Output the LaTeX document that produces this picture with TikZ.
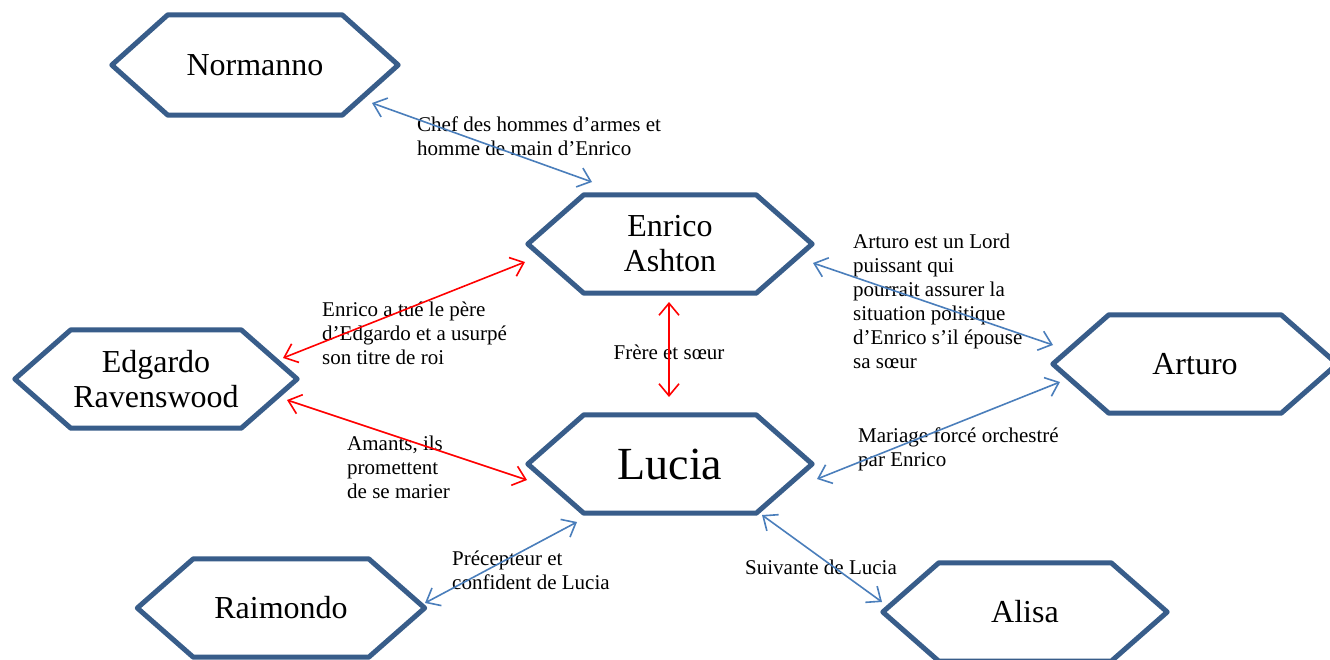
\documentclass[tikz,border=0pt]{standalone}
\usepackage{fontspec}
\setmainfont{Liberation Serif}
\usetikzlibrary{arrows.meta}
\definecolor{hexcol}{HTML}{385D8A}
\definecolor{arrowblue}{HTML}{4A7EBB}
\definecolor{arrowred}{HTML}{FF0000}
\tikzset{
  person/.style={minimum width=284pt, minimum height=98pt, inner sep=0pt, align=center,
    font=\fontsize{32}{35}\selectfont},
  hexline/.style={draw=hexcol, line width=5pt, line join=round},
  lab/.style={anchor=west, align=left, inner sep=0pt, font=\fontsize{21}{24}\selectfont},
  conn/.style={line width=1.6pt,
    {Straight Barb[length=12pt,width=20pt]}-{Straight Barb[length=12pt,width=20pt]}},
  blueconn/.style={conn, draw=arrowblue},
  redconn/.style={conn, draw=arrowred}
}
\newcommand{\hexof}[1]{%
  \draw[hexline] (#1.west) -- ([xshift=56pt]#1.north west) -- ([xshift=-56pt]#1.north east)
    -- (#1.east) -- ([xshift=-56pt]#1.south east) -- ([xshift=56pt]#1.south west) -- cycle;}
\begin{document}
\begin{tikzpicture}[x=1pt,y=-1pt]
\useasboundingbox[fill=white] (0,0) rectangle (1330,659);
% characters
\node[person, minimum width=286pt, minimum height=100pt] (norm) at (255,65) {Normanno};
\node[person] (enr) at (670,244) {Enrico\\Ashton};
\node[person, minimum width=282pt] (edg) at (156,379) {Edgardo\\Ravenswood};
\node[person, font=\fontsize{46}{50}\selectfont] (luc) at (670,464) {Lucia};
\node[person] (art) at (1195,364) {Arturo};
\node[person, minimum width=287pt] (rai) at (281,608) {Raimondo};
\node[person] (ali) at (1025,612) {Alisa};
\foreach \n in {norm,enr,edg,luc,art,rai,ali} {\hexof{\n}}
% labels
\node[lab] (l1) at (417,136) {Chef des hommes d’armes et\\homme de main d’Enrico};
\node[lab] (l2) at (322,333) {Enrico a tué le père\\d’Edgardo et a usurpé\\son titre de roi};
\node[lab] (l3) at (347,467) {Amants, ils\\promettent\\de se marier};
\node[lab, anchor=center] (l4) at (669,352) {Frère et sœur};
\node[lab] (l5) at (853,301) {Arturo est un Lord\\puissant qui\\pourrait assurer la\\situation politique\\d’Enrico s’il épouse\\sa sœur};
\node[lab] (l6) at (858,449) {Mariage forcé orchestré\\par Enrico};
\node[lab] (l7) at (452,570) {Précepteur et\\confident de Lucia};
\node[lab] (l8) at (745,567) {Suivante de Lucia};
% connectors
\draw[blueconn] ([shift={(117,38)}]norm.center) -- ([shift={(-78,-62)}]enr.center);
\draw[redconn] ([shift={(-145,18)}]enr.center) -- ([shift={(127,-21)}]edg.center);
\draw[redconn] ([shift={(131,21)}]edg.center) -- ([shift={(-143,16)}]luc.center);
\draw[redconn] ([shift={(-1,58)}]enr.center) -- ([shift={(-1,-67)}]luc.center);
\draw[blueconn] ([shift={(143,19)}]enr.center) -- ([shift={(-142,-19)}]art.center);
\draw[blueconn] ([shift={(147,15)}]luc.center) -- ([shift={(-135,18)}]art.center);
\draw[blueconn] ([shift={(-93,58)}]luc.center) -- ([shift={(144,-5)}]rai.center);
\draw[blueconn] ([shift={(92,51)}]luc.center) -- ([shift={(-143,-10)}]ali.center);
\end{tikzpicture}
\end{document}
